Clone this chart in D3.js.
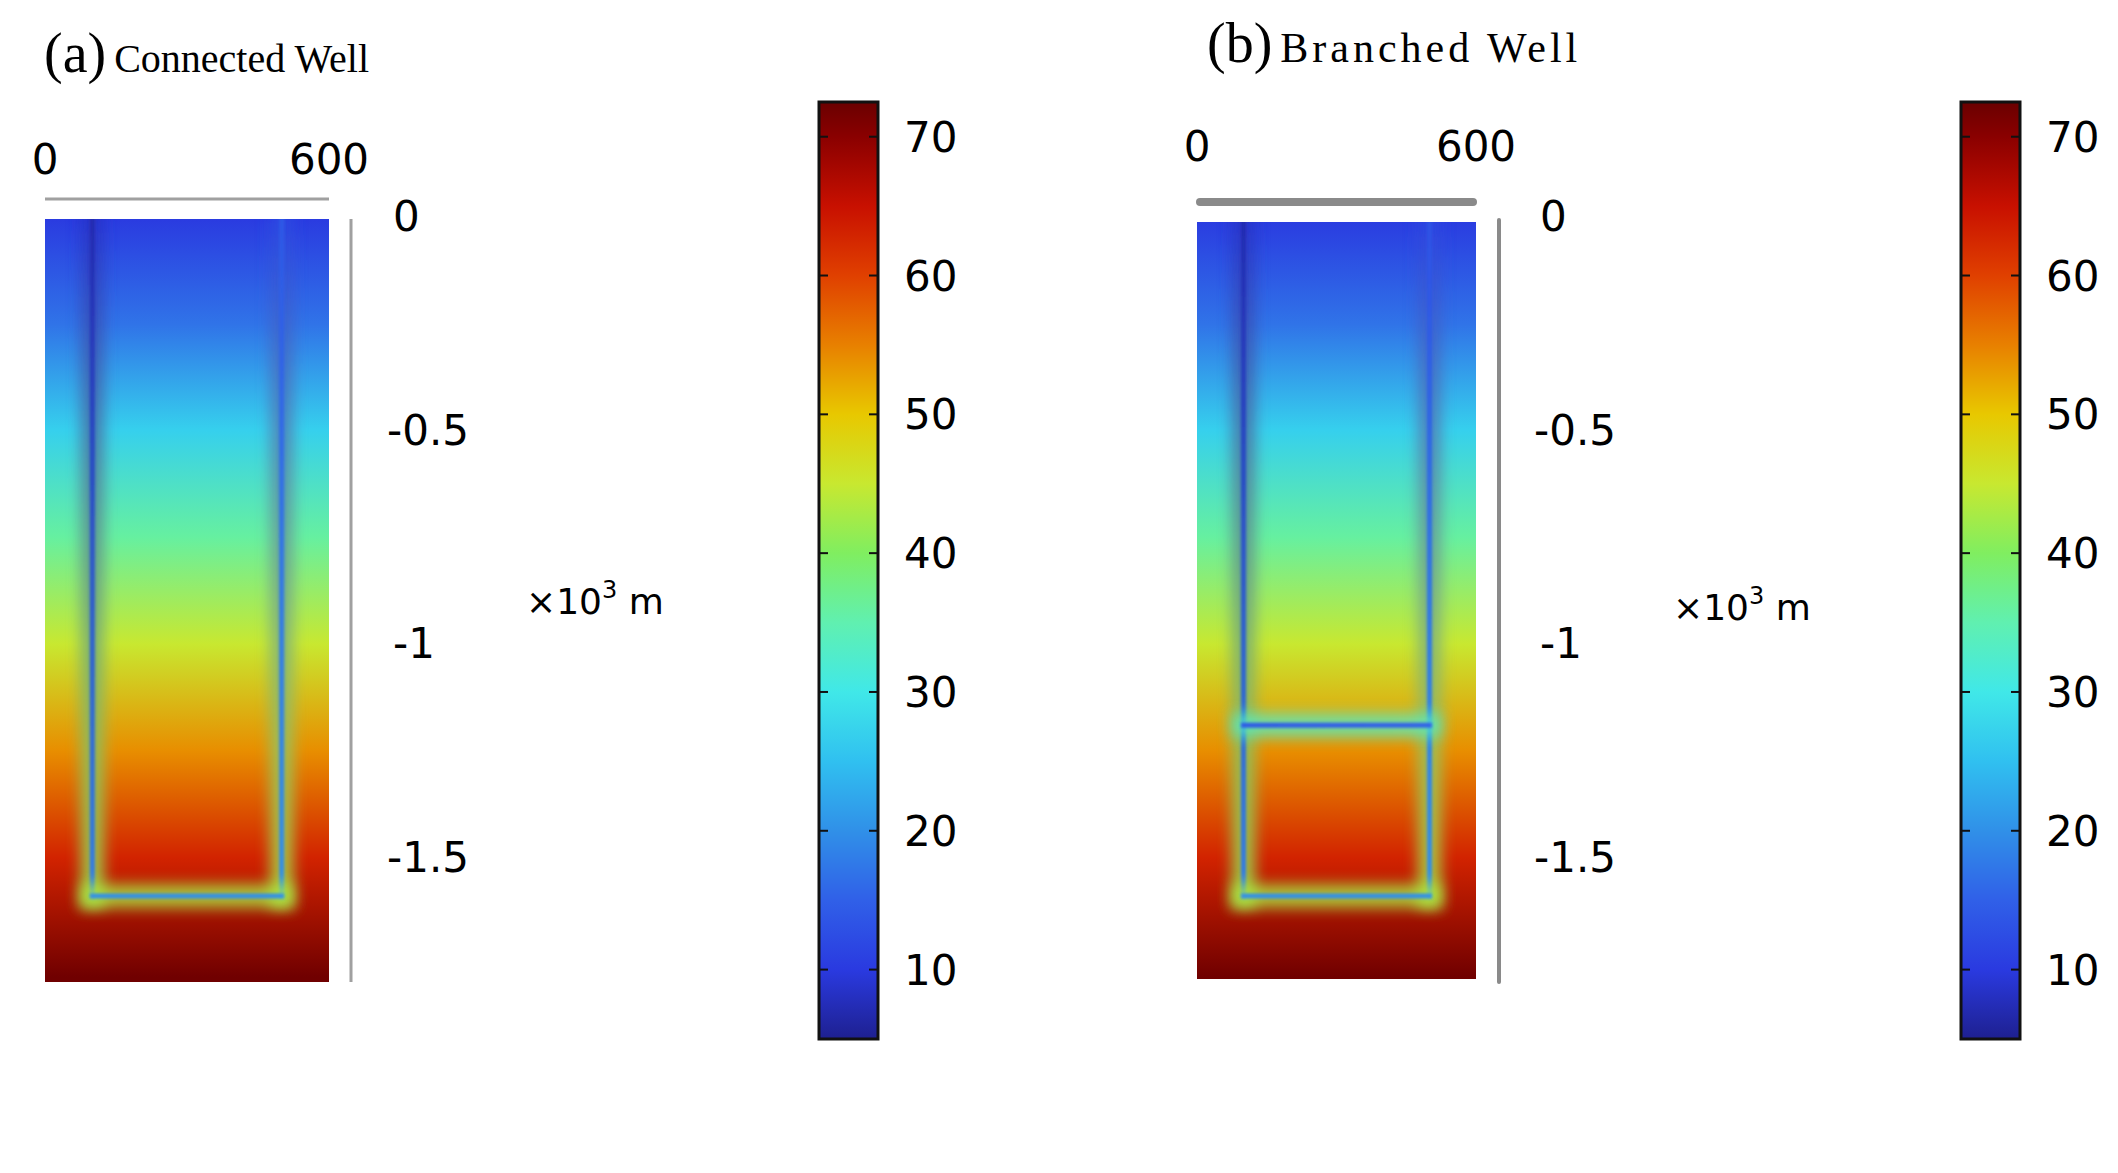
<!DOCTYPE html>
<html><head><meta charset="utf-8">
<script src="https://cdn.jsdelivr.net/npm/d3@7"></script>
<style>body{margin:0;background:#fff}svg{display:block}</style>
</head><body>
<script>
// ---------- data ----------
const xTicks = [0, 600];
const yTicks = [0, -0.5, -1, -1.5];
const cTicks = [10, 20, 30, 40, 50, 60, 70];
const cRange = [5, 72.5];
const cStops  = [5, 10, 15, 20, 25, 30, 35, 40, 45, 50, 55, 60, 65, 70, 72.5];
const cColors = ["#1e2090","#2a3ae0","#3060e8","#3090e8","#30c0f0","#40e8e8","#60f0b0","#80ee60",
                 "#c8e830","#e8c800","#e88000","#e04000","#c81000","#8a0000","#6a0000"];
// far-field temperature vs depth (km)
const bgDepth = [0, 0.25, 0.5, 0.75, 1.0, 1.25, 1.5, 1.78];
const bgTemp  = [10, 17, 27, 36, 45, 54, 63, 72];
// well paths: x (m), depth (km), temperature along path
const wellsA = [
  {x: [100, 100], z: [0, 1.59], t: [7, 18]},
  {x: [500, 500], z: [0, 1.59], t: [14, 20]},
  {x: [100, 500], z: [1.59, 1.59], t: [20, 20]}
];
const wellsB = [
  {x: [100, 100], z: [0, 1.59], t: [7, 18]},
  {x: [500, 500], z: [0, 1.59], t: [13, 20]},
  {x: [100, 500], z: [1.19, 1.19], t: [14, 15]},
  {x: [100, 500], z: [1.59, 1.59], t: [20, 20]}
];
const panels = [
  {tag: "(a)", title: "Connected Well", wells: wellsA, x0: 45, x1: 329, top: 219, bot: 982, axX: 351,
   tx: 44, ty: 72, cbX: 819, lblX: 387, unitX: 526, unitY: 600},
  {tag: "(b)", title: "Branched Well", wells: wellsB, x0: 1197, x1: 1476, top: 222, bot: 979, axX: 1499,
   tx: 1207, ty: 62, cbX: 1961, lblX: 1534, unitX: 1673, unitY: 606}
];

const W = 2118, H = 1173;
const color = d3.scaleLinear().domain(cStops).range(cColors).clamp(true);
const tempAt = d3.scaleLinear().domain(bgDepth).range(bgTemp);

const svg = d3.select("body").append("svg").attr("width", W).attr("height", H);
const defs = svg.append("defs");
[["blur", 7], ["blur2", 1.5]].forEach(([id, s]) => {
  defs.append("filter").attr("id", id).attr("filterUnits", "userSpaceOnUse")
    .attr("x", 0).attr("y", 0).attr("width", W).attr("height", H)
    .append("feGaussianBlur").attr("stdDeviation", s);
});

const sans = "DejaVu Sans";

panels.forEach((p, i) => {
  const x = d3.scaleLinear().domain([0, 600]).range([p.x0, p.x1]);
  const y = d3.scaleLinear().domain([0, -1.78]).range([217, 217 + 1.78 * 427]);
  const g = svg.append("g");

  // background gradient
  const gid = "bg" + i;
  const lg = defs.append("linearGradient").attr("id", gid).attr("gradientUnits", "userSpaceOnUse")
    .attr("x1", 0).attr("x2", 0).attr("y1", y(0)).attr("y2", y(-1.78));
  bgDepth.forEach((d, k) => lg.append("stop").attr("offset", d / 1.78).attr("stop-color", color(bgTemp[k])));

  const clipId = "clip" + i;
  defs.append("clipPath").attr("id", clipId).append("rect")
    .attr("x", p.x0).attr("y", p.top).attr("width", p.x1 - p.x0).attr("height", p.bot - p.top);

  const field = g.append("g").attr("clip-path", `url(#${clipId})`);
  field.append("rect").attr("x", p.x0).attr("y", p.top).attr("width", p.x1 - p.x0).attr("height", p.bot - p.top)
    .attr("fill", `url(#${gid})`);

  // well segments: blurred halo then core
  p.wells.forEach((w, k) => {
    const sid = `w${i}_${k}`, hid = `h${i}_${k}`;
    const mk = (id, f) => {
      const s = defs.append("linearGradient").attr("id", id).attr("gradientUnits", "userSpaceOnUse")
        .attr("x1", x(w.x[0])).attr("y1", y(-w.z[0])).attr("x2", x(w.x[1]) + 0.01).attr("y2", y(-w.z[1]) + 0.01);
      w.t.forEach((t, j) => s.append("stop").attr("offset", j / (w.t.length - 1)).attr("stop-color", f(t, j)));
    };
    mk(hid, (t, j) => color((t + tempAt(w.z[j])) / 2));
    mk(sid, t => color(t));
    const line = sel => sel.attr("x1", x(w.x[0])).attr("y1", y(-w.z[0])).attr("x2", x(w.x[1])).attr("y2", y(-w.z[1]));
    field.append("line").call(line).attr("stroke", `url(#${hid})`).attr("stroke-width", 24)
      .attr("stroke-linecap", "square").attr("opacity", 0.8).attr("filter", "url(#blur)");
    field.append("line").call(line).attr("stroke", `url(#${sid})`).attr("stroke-width", 5)
      .attr("stroke-linecap", "square").attr("filter", "url(#blur2)");
  });

  // axes lines
  if (i === 0) {
    g.append("line").attr("x1", p.x0).attr("x2", p.x1).attr("y1", 199).attr("y2", 199).attr("stroke", "#a0a0a0").attr("stroke-width", 3);
    g.append("line").attr("x1", p.axX).attr("x2", p.axX).attr("y1", 219).attr("y2", 982).attr("stroke", "#a0a0a0").attr("stroke-width", 3);
  } else {
    g.append("line").attr("x1", p.x0 + 3).attr("x2", p.x1 - 3).attr("y1", 202).attr("y2", 202).attr("stroke", "#8a8a8a")
      .attr("stroke-width", 8).attr("stroke-linecap", "round");
    g.append("line").attr("x1", p.axX).attr("x2", p.axX).attr("y1", 220).attr("y2", 982).attr("stroke", "#8a8a8a")
      .attr("stroke-width", 4).attr("stroke-linecap", "round");
  }

  // x tick labels
  g.selectAll(".xt").data(xTicks).join("text")
    .attr("x", d => x(d)).attr("y", i === 0 ? 174 : 161).attr("text-anchor", "middle")
    .attr("font-family", sans).attr("font-size", 42).text(d => d);
  // y tick labels
  g.selectAll(".yt").data(yTicks).join("text")
    .attr("x", d => p.lblX + (d === 0 || d === -1 ? 6 : 0)).attr("y", d => y(d) + 14)
    .attr("font-family", sans).attr("font-size", 42).text(d => d === 0 ? "0" : "-" + Math.abs(d));
  const u = g.append("text").attr("x", p.unitX).attr("y", p.unitY + 14).attr("font-family", sans).attr("font-size", 36);
  u.append("tspan").text("×10");
  u.append("tspan").attr("dy", -16).attr("font-size", 24).text("3");
  u.append("tspan").attr("dy", 16).text(" m");

  // title
  const t = g.append("text").attr("x", p.tx).attr("y", p.ty).attr("font-family", "Liberation Serif");
  t.append("tspan").attr("font-size", 56).text(p.tag);
  t.append("tspan").attr("font-size", i === 0 ? 40 : 42).attr("dx", 8)
    .attr("letter-spacing", i === 0 ? 0 : 4).text(p.title);

  // colorbar
  const cb = d3.scaleLinear().domain(cRange).range([1039, 102]);
  const cid = "cb" + i;
  const cg = defs.append("linearGradient").attr("id", cid).attr("x1", 0).attr("x2", 0).attr("y1", 1).attr("y2", 0);
  cStops.forEach((s, k) => cg.append("stop").attr("offset", (s - cRange[0]) / (cRange[1] - cRange[0])).attr("stop-color", cColors[k]));
  g.append("rect").attr("x", p.cbX).attr("y", 102).attr("width", 59).attr("height", 937)
    .attr("fill", `url(#${cid})`).attr("stroke", "#111").attr("stroke-width", 3);
  cTicks.forEach(v => {
    g.append("line").attr("x1", p.cbX).attr("x2", p.cbX + 9).attr("y1", cb(v)).attr("y2", cb(v)).attr("stroke", "#111").attr("stroke-width", 2);
    g.append("line").attr("x1", p.cbX + 50).attr("x2", p.cbX + 59).attr("y1", cb(v)).attr("y2", cb(v)).attr("stroke", "#111").attr("stroke-width", 2);
  });
  g.selectAll(".ct").data(cTicks).join("text")
    .attr("x", p.cbX + 85).attr("y", d => cb(d) + 15).attr("font-family", sans).attr("font-size", 42).text(d => d);
});
</script>
</body></html>
